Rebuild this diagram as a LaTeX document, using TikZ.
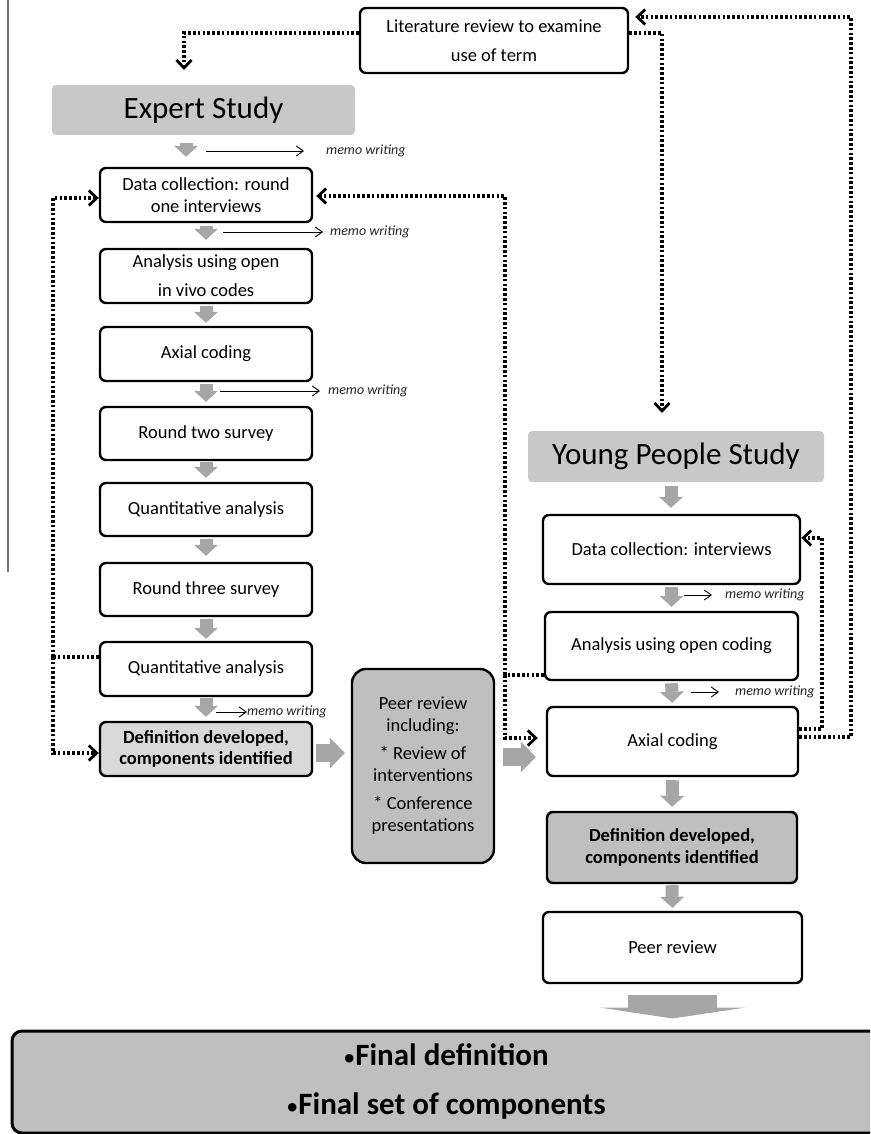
\documentclass[tikz,border=0pt]{standalone}
\usepackage{fontspec}
\setmainfont{Carlito}
\usetikzlibrary{arrows.meta,calc}
\definecolor{garrow}{RGB}{166,166,166}
\definecolor{studyfill}{RGB}{200,200,200}
\definecolor{deflight}{RGB}{217,217,217}
\definecolor{midgray}{RGB}{191,191,191}
\newcommand{\finbul}{\raisebox{0.5pt}{\mdseries\fontsize{24}{24}\selectfont•}}
\begin{document}
\begin{tikzpicture}[x=1pt,y=-1pt,
  box/.style={draw=black, line width=2.4pt, rounded corners=6pt, fill=white, align=center, inner sep=0pt, font=\fontsize{18.5}{22}\selectfont},
  study/.style={fill=studyfill, rounded corners=4pt, inner sep=0pt, font=\fontsize{31}{36}\selectfont},
  dotline/.style={line width=3.2pt, dash pattern=on 2.6pt off 2.2pt},
  dotarr/.style={dotline, -{Straight Barb[length=8pt,width=15pt,line width=2.8pt]}},
  garr/.style={draw=garrow, line width=13pt, -{Triangle[length=11pt,width=24pt,line width=0pt]}},
  harr/.style={draw=garrow, line width=18pt, -{Triangle[length=15pt,width=31pt,line width=0pt]}},
  memo/.style={font=\fontsize{14}{16}\selectfont\itshape, inner sep=0pt, anchor=west, text=black!85},
  marr/.style={line width=0.9pt, -{Straight Barb[length=7pt,width=10pt,line width=0.9pt]}},
]
\useasboundingbox (0,0) rectangle (870,1134);
\clip (0,0) rectangle (870,1134);

% stray margin line
\draw[black!55, line width=1.3pt] (8,0) -- (8,572);

% nodes
\node[box, minimum width=268pt, minimum height=65pt, font=\fontsize{18.5}{29}\selectfont] (lit) at (494,40.5) {Literature review to examine\\use of term};
\node[study, minimum width=303pt, minimum height=50pt] (exp) at (203.5,110) {Expert Study};
\node[box, minimum width=212pt, minimum height=54pt] (dc1) at (206,195) {Data collection: round\\one interviews};
\node[box, minimum width=212pt, minimum height=54pt, font=\fontsize{18.5}{29}\selectfont] (an1) at (206,276) {Analysis using open\\in vivo codes};
\node[box, minimum width=212pt, minimum height=54pt] (ax1) at (206,354) {Axial coding};
\node[box, minimum width=212pt, minimum height=53pt] (r2) at (206,433.5) {Round two survey};
\node[box, minimum width=212pt, minimum height=53pt] (qa1) at (206,509.5) {Quantitative analysis};
\node[box, minimum width=212pt, minimum height=53pt] (r3) at (206,589.5) {Round three survey};
\node[box, minimum width=212pt, minimum height=54pt] (qa2) at (206,669) {Quantitative analysis};
\node[box, minimum width=212pt, minimum height=54pt, fill=deflight, font=\fontsize{18.5}{21}\selectfont\bfseries] (def1) at (206,749) {Definition developed,\\components identified};
\node[box, minimum width=142pt, minimum height=194pt, fill=midgray, rounded corners=14pt] (peer) at (423,766) {Peer review\\including:\\[6pt]* Review of\\interventions\\[6pt]* Conference\\presentations};

\node[study, minimum width=296pt, minimum height=51pt] (yp) at (676,456.5) {Young People Study};
\node[box, minimum width=257pt, minimum height=69pt] (dc2) at (671.5,549.5) {Data collection: interviews};
\node[box, minimum width=253pt, minimum height=68pt] (an2) at (671.5,646) {Analysis using open coding};
\node[box, minimum width=251pt, minimum height=69pt] (ax2) at (672.5,741.5) {Axial coding};
\node[box, minimum width=250pt, minimum height=71pt, fill=midgray, font=\fontsize{18.5}{22}\selectfont\bfseries] (def2) at (672,847.5) {Definition developed,\\components identified};
\node[box, minimum width=259pt, minimum height=71pt] (pr2) at (672.5,947.5) {Peer review};
\node[box, minimum width=868pt, minimum height=102pt, fill=midgray, line width=3pt, rounded corners=10pt, font=\fontsize{31}{49}\selectfont\bfseries] (final) at (446,1082) {\finbul Final definition\\\finbul Final set of components};

% gray block arrows
\draw[garr, shorten <=8pt, shorten >=10pt] (exp.south -| 186,0) -- (dc1.north -| 186,0);
\draw[garr, shorten <=3pt, shorten >=8pt] (dc1.south) -- (an1.north);
\draw[garr, shorten <=2pt, shorten >=3pt] (an1.south) -- (ax1.north);
\draw[garr, shorten <=2pt, shorten >=4pt] (ax1.south) -- (r2.north);
\draw[garr, shorten <=1pt, shorten >=4pt] (r2.south) -- (qa1.north);
\draw[garr, shorten <=2pt, shorten >=6pt] (qa1.south) -- (r3.north);
\draw[garr, shorten <=2pt, shorten >=2pt] (r3.south) -- (qa2.north);
\draw[garr, shorten <=1pt, shorten >=4pt] (qa2.south) -- (def1.north);
\draw[harr, shorten <=3pt, shorten >=6pt] (def1.east |- 0,753) -- (peer.west |- 0,753);
\draw[harr, shorten <=8pt, shorten >=10pt] (peer.east |- 0,757) -- (ax2.west |- 0,757);
\draw[garr, shorten <=4pt, shorten >=6pt] (yp.south -| 671,0) -- (dc2.north -| 671,0);
\draw[garr, shorten <=2pt, shorten >=4pt] (dc2.south) -- (an2.north);
\draw[garr, shorten <=2pt, shorten >=3pt] (an2.south) -- (ax2.north);
\draw[garr, shorten <=3pt, shorten >=4pt] (ax2.south) -- (def2.north);
\draw[garr, shorten <=1pt, shorten >=3pt] (def2.south) -- (pr2.north);
\draw[draw=garrow, line width=89pt, -{Triangle[length=11pt,width=146pt,line width=0pt]}, shorten <=11pt, shorten >=11pt] (pr2.south) -- (final.north -| pr2.south);

% dotted feedback connectors
\coordinate (expIn) at (184,70);
\draw[dotarr] (lit.west |- 0,33) -| (expIn);
\coordinate (rtop) at (851,17);
\draw[dotarr, shorten >=6pt] (ax2.east |- 0,737) -| (rtop) -- (lit.east |- rtop);
\coordinate (ypIn) at (662,413);
\draw[dotarr] (lit.east |- 0,33) -| (ypIn);
\coordinate (lj) at (53,657);
\draw[dotline] (qa2.west |- lj) -- (lj);
\draw[dotarr] (lj) |- (dc1.west |- 0,198);
\draw[dotarr] (lj) |- (def1.west |- 0,753);
\coordinate (rj) at (505,675);
\draw[dotline] (an2.west |- rj) -- (rj);
\draw[dotarr, shorten >=3pt] (rj) |- (dc1.east |- 0,196);
\draw[dotarr, shorten >=8pt] (rj) |- (ax2.west |- 0,738);
\coordinate (ij) at (822,538);
\draw[dotarr] (ax2.east |- 0,729) -| (ij) -- (dc2.east |- ij);

% memo writing notes
\node[memo] (m1) at (326,151) {memo writing};
\coordinate (m1s) at (206,151);
\draw[marr, shorten >=22pt] (m1s) -- (m1.west);
\node[memo] (m2) at (330,232) {memo writing};
\coordinate (m2s) at (223,232);
\draw[marr, shorten >=7pt] (m2s) -- (m2.west);
\node[memo] (m3) at (328,391) {memo writing};
\coordinate (m3s) at (220,391);
\draw[marr, shorten >=8pt] (m3s) -- (m3.west);
\node[memo] (m4) at (247,712) {memo writing};
\coordinate (m4s) at (216,712);
\draw[marr] (m4s) -- (m4.west);
\node[memo] (m5) at (725,595) {memo writing};
\coordinate (m5s) at (684,595);
\draw[marr, shorten >=13pt] (m5s) -- (m5.west);
\node[memo] (m6) at (735,692) {memo writing};
\coordinate (m6s) at (691,692);
\draw[marr, shorten >=16pt] (m6s) -- (m6.west);
\end{tikzpicture}
\end{document}
